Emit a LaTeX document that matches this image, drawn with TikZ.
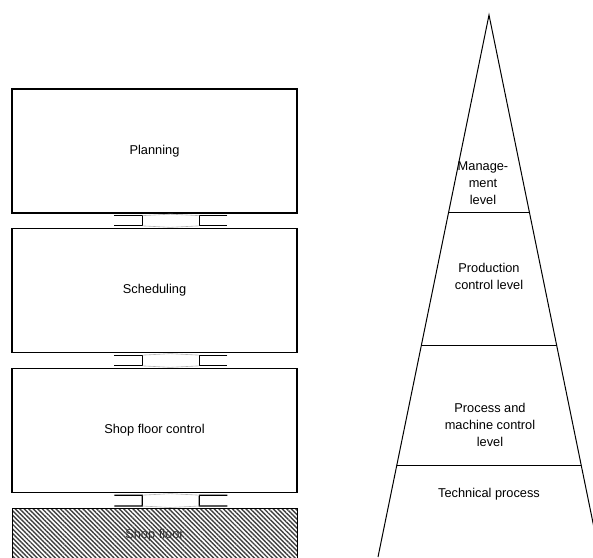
\documentclass[tikz,border=0pt]{standalone}
\usepackage{fontspec}
\setmainfont{Liberation Sans}
\usetikzlibrary{calc,patterns.meta}
\tikzset{
  stage/.style={draw, line width=1.3pt, minimum width=285pt, minimum height=124pt, inner sep=0pt, font=\fontsize{12.8}{17}\selectfont},
  joinline/.style={line width=1.2pt},
  faintline/.style={line width=0.6pt, gray!60},
  level/.style={align=center, inner sep=0pt, font=\fontsize{12.8}{17}\selectfont},
}
% link between two stacked boxes
\newcommand{\gapjoin}[2]{%
  \draw[joinline] ($(#1.south west)+(103,2)$) -- ($(#1.south west)+(131,2)$) -- ($(#2.north west)+(131,-2)$) -- ($(#2.north west)+(103,-2)$);
  \draw[joinline] ($(#1.south west)+(216,2)$) -- ($(#1.south west)+(188,2)$) -- ($(#2.north west)+(188,-2)$) -- ($(#2.north west)+(216,-2)$);
  \draw[faintline] ($(#1.south west)+(131,2)$) -- ($(#1.south west)+(159,0.5)$) -- ($(#1.south west)+(188,2)$);
  \draw[faintline] ($(#2.north west)+(131,-2)$) -- ($(#2.north west)+(159,-0.5)$) -- ($(#2.north west)+(188,-2)$);
}
\begin{document}
\begin{tikzpicture}[x=1pt,y=-1pt]
  \useasboundingbox (0,0) rectangle (593,557);
  \begin{scope}
    \clip (0,0) rectangle (593,557);
    % left stack
    \node[stage] (plan) at (154.5,151) {Planning};
    \node[stage] (sched) at (154.5,290.5) {Scheduling};
    \node[stage] (shopctl) at (154.5,430.5) {Shop floor control};
    \node[stage, line width=0.8pt, minimum height=70pt, pattern={Lines[angle=-45,distance=3.2pt,line width=1.4pt]}, pattern color=black!75, anchor=north] (shop) at (154.5,508) {};
    \node[level, text=black!80] (shoplbl) at (154.5,535) {Shop floor};
    \gapjoin{plan}{sched}
    \gapjoin{sched}{shopctl}
    \gapjoin{shopctl}{shop}
    % pyramid
    \coordinate (apex) at (489,15);
    \coordinate (bl) at (378,557);
    \coordinate (br) at (600,557);
    \draw[line width=1pt] (bl) -- (apex) -- (br);
    \foreach \t in {0.3653,0.6089,0.8303}
      \draw[line width=1pt] ($(apex)!\t!(bl)$) -- ($(apex)!\t!(br)$);
    \node[level] (mgmt) at (483,183) {Manage-\\ment\\level};
    \node[level] (prod) at (489,276.5) {Production\\control level};
    \node[level] (proc) at (490,425) {Process and\\machine control\\level};
    \node[level] (tech) at (489,494) {Technical process};
  \end{scope}
\end{tikzpicture}
\end{document}
